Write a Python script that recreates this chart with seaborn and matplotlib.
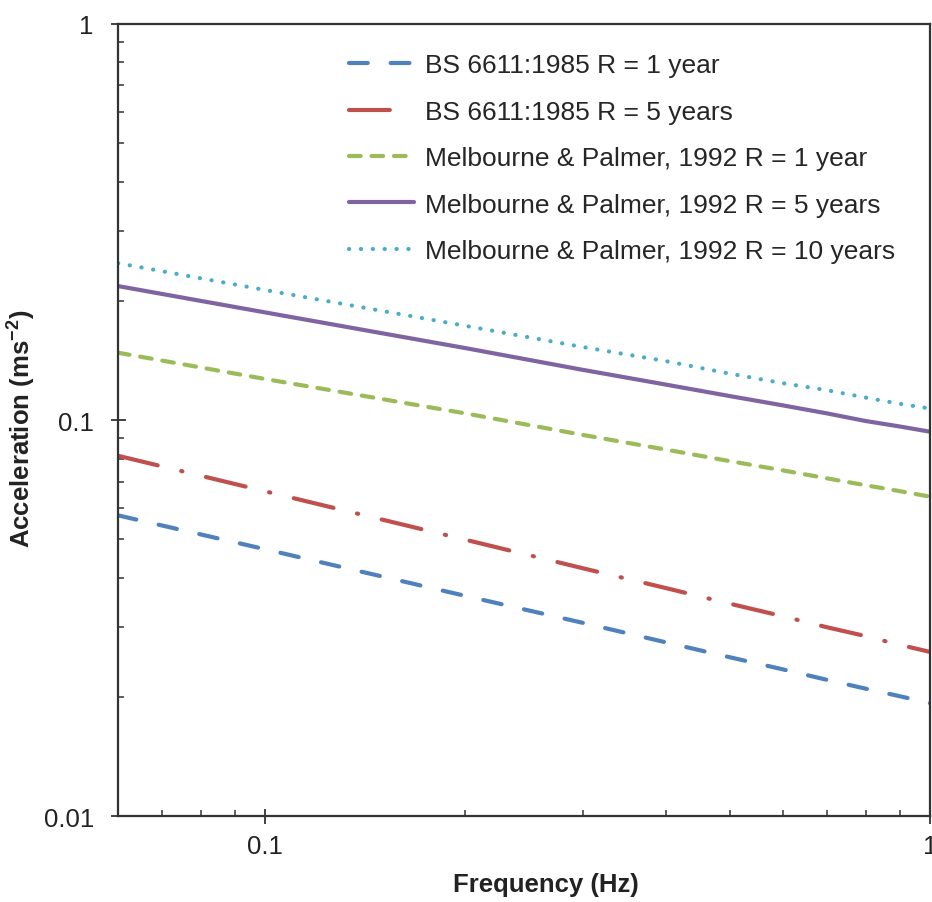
import numpy as np
import pandas as pd
import matplotlib
matplotlib.use('Agg')
import matplotlib.pyplot as plt
import seaborn as sns

# frequency points (Hz) and acceleration values (m/s^2)
frequency = [0.06, 0.1, 0.2, 0.3, 0.4, 0.5, 0.6, 0.7, 0.8, 0.9, 1.0]

bs_1yr = [0.0575, 0.0472, 0.0360, 0.0308, 0.0275, 0.0252, 0.0235, 0.0221, 0.0210, 0.0201, 0.0193]
bs_5yr = [0.0813, 0.0661, 0.0499, 0.0423, 0.0377, 0.0344, 0.0320, 0.0300, 0.0285, 0.0271, 0.0260]
mp_1yr = [0.148, 0.127, 0.104, 0.0918, 0.0843, 0.0788, 0.0747, 0.0713, 0.0685, 0.0662, 0.0641]
mp_5yr = [0.218, 0.187, 0.152, 0.134, 0.123, 0.115, 0.109, 0.104, 0.0995, 0.0964, 0.0935]
mp_10yr = [0.249, 0.213, 0.173, 0.153, 0.141, 0.131, 0.124, 0.119, 0.114, 0.110, 0.107]

labels = [
    'BS 6611:1985 R = 1 year',
    'BS 6611:1985 R = 5 years',
    'Melbourne & Palmer, 1992 R = 1 year',
    'Melbourne & Palmer, 1992 R = 5 years',
    'Melbourne & Palmer, 1992 R = 10 years',
]
series = [bs_1yr, bs_5yr, mp_1yr, mp_5yr, mp_10yr]
colors = ['#4F81BD', '#C0504D', '#9BBB59', '#8064A2', '#4BACC6']
styles = [
    (0, (4.5, 5.5)),
    (0, (9.8, 5.8, 0.3, 5.8)),
    (0, (2.8, 2.6)),
    '-',
    (0, (0.05, 2.8)),
]

x_ticks = [0.1, 1]
x_tick_labels = ['0.1', '1']
y_ticks = [0.01, 0.1, 1]
y_tick_labels = ['0.01', '0.1', '1']

sns.set_theme(style='ticks')
plt.rcParams['font.family'] = ['Liberation Sans', 'DejaVu Sans']
plt.rcParams['mathtext.fontset'] = 'custom'
plt.rcParams['mathtext.rm'] = 'Liberation Sans'
plt.rcParams['mathtext.bf'] = 'Liberation Sans:bold'
plt.rcParams['lines.dash_capstyle'] = 'round'
plt.rcParams['lines.solid_capstyle'] = 'round'

fig = plt.figure(figsize=(9.32, 9.03), dpi=100)
ax = fig.add_axes([118 / 932, 1 - 817.3 / 903, (930 - 118) / 932, (817.3 - 25) / 903])

for vals, lab, col, ls in zip(series, labels, colors, styles):
    df = pd.DataFrame({'freq': frequency, 'acc': vals})
    sns.lineplot(data=df, x='freq', y='acc', ax=ax, color=col, lw=3.0,
                 linestyle=ls, label=lab, legend=False)

ax.set_xscale('log')
ax.set_yscale('log')
ax.set_xlim(0.06, 1)
ax.set_ylim(0.01, 1)

ax.set_xticks(x_ticks)
ax.set_xticklabels(x_tick_labels)
ax.set_yticks(y_ticks)
ax.set_yticklabels(y_tick_labels)
ax.xaxis.set_minor_locator(matplotlib.ticker.LogLocator(base=10, subs=np.arange(2, 10)))
ax.yaxis.set_minor_locator(matplotlib.ticker.LogLocator(base=10, subs=np.arange(2, 10)))
ax.xaxis.set_minor_formatter(matplotlib.ticker.NullFormatter())
ax.yaxis.set_minor_formatter(matplotlib.ticker.NullFormatter())

ax.tick_params(which='major', direction='inout', length=10.8, width=1.3, color='#333333',
               labelsize=18.5, labelcolor='#222222')
ax.tick_params(which='minor', direction='in', length=4.5, width=1.1, color='#333333')
ax.tick_params(axis='y', which='major', pad=12)
ax.tick_params(axis='x', which='major', pad=7)
ax.tick_params(top=False, right=False, which='both')

for sp in ax.spines.values():
    sp.set_visible(True)
    sp.set_linewidth(1.6)
    sp.set_color('#333333')

ax.set_xlabel('Frequency (Hz)', fontsize=18.5, fontweight='bold', color='#222222')
ax.set_ylabel(r'Acceleration (ms$^{\mathbf{-2}}$)', fontsize=18.5, fontweight='bold', color='#222222')
ax.xaxis.set_label_coords(0.527, -0.07)
ax.yaxis.set_label_coords(-0.1, 0.49)

ax.legend(loc='upper left', bbox_to_anchor=(0.284, 0.963), frameon=False,
          fontsize=19, handlelength=2.46, handletextpad=0.45, labelspacing=0.85,
          borderaxespad=0, borderpad=0)

fig.savefig('out.png', dpi=100)
